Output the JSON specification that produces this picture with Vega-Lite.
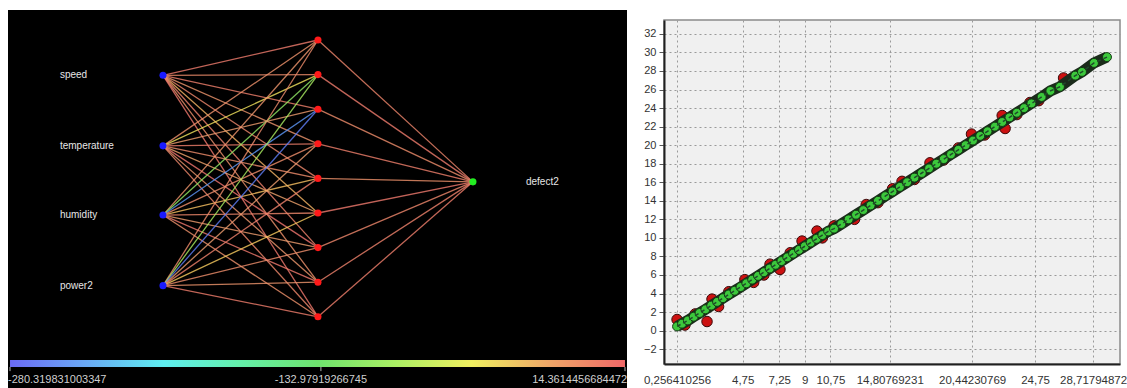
{
  "$schema": "https://vega.github.io/schema/vega-lite/v6.json",
  "background": "white",
  "padding": {"left": 8, "top": 10, "right": 0, "bottom": 0},
  "spacing": 15,
  "config": {"font": "Liberation Sans", "view": {"stroke": null}, "axis": {"labelOverlap": false}},
  "datasets": {
    "nodes": [
      {"L": 1, "j": 2.02, "k": "in"}, {"L": 1, "j": 4.06, "k": "in"}, {"L": 1, "j": 6.06, "k": "in"}, {"L": 1, "j": 8.1, "k": "in"},
      {"L": 2, "j": 1, "k": "hid"}, {"L": 2, "j": 2, "k": "hid"}, {"L": 2, "j": 3, "k": "hid"}, {"L": 2, "j": 4, "k": "hid"}, {"L": 2, "j": 5, "k": "hid"},
      {"L": 2, "j": 6, "k": "hid"}, {"L": 2, "j": 7, "k": "hid"}, {"L": 2, "j": 8, "k": "hid"}, {"L": 2, "j": 9, "k": "hid"},
      {"L": 3, "j": 5.1, "k": "out"}
    ],
    "edges": [
      {"L1": 1, "j1": 2.02, "L2": 2, "j2": 1, "w": 5}, {"L1": 1, "j1": 2.02, "L2": 2, "j2": 2, "w": -8}, {"L1": 1, "j1": 2.02, "L2": 2, "j2": 3, "w": 2},
      {"L1": 1, "j1": 2.02, "L2": 2, "j2": 4, "w": -15}, {"L1": 1, "j1": 2.02, "L2": 2, "j2": 5, "w": -5}, {"L1": 1, "j1": 2.02, "L2": 2, "j2": 6, "w": -35},
      {"L1": 1, "j1": 2.02, "L2": 2, "j2": 7, "w": 0}, {"L1": 1, "j1": 2.02, "L2": 2, "j2": 8, "w": -12}, {"L1": 1, "j1": 2.02, "L2": 2, "j2": 9, "w": 8},
      {"L1": 1, "j1": 4.06, "L2": 2, "j2": 1, "w": -12}, {"L1": 1, "j1": 4.06, "L2": 2, "j2": 2, "w": -55}, {"L1": 1, "j1": 4.06, "L2": 2, "j2": 3, "w": -20},
      {"L1": 1, "j1": 4.06, "L2": 2, "j2": 4, "w": 3}, {"L1": 1, "j1": 4.06, "L2": 2, "j2": 5, "w": -8}, {"L1": 1, "j1": 4.06, "L2": 2, "j2": 6, "w": -25},
      {"L1": 1, "j1": 4.06, "L2": 2, "j2": 7, "w": 10}, {"L1": 1, "j1": 4.06, "L2": 2, "j2": 8, "w": -18}, {"L1": 1, "j1": 4.06, "L2": 2, "j2": 9, "w": -5},
      {"L1": 1, "j1": 6.06, "L2": 2, "j2": 1, "w": -15}, {"L1": 1, "j1": 6.06, "L2": 2, "j2": 2, "w": -110}, {"L1": 1, "j1": 6.06, "L2": 2, "j2": 3, "w": -255},
      {"L1": 1, "j1": 6.06, "L2": 2, "j2": 4, "w": -10}, {"L1": 1, "j1": 6.06, "L2": 2, "j2": 5, "w": -40}, {"L1": 1, "j1": 6.06, "L2": 2, "j2": 6, "w": -5},
      {"L1": 1, "j1": 6.06, "L2": 2, "j2": 7, "w": -20}, {"L1": 1, "j1": 6.06, "L2": 2, "j2": 8, "w": 6}, {"L1": 1, "j1": 6.06, "L2": 2, "j2": 9, "w": -12},
      {"L1": 1, "j1": 8.1, "L2": 2, "j2": 1, "w": -8}, {"L1": 1, "j1": 8.1, "L2": 2, "j2": 2, "w": -95}, {"L1": 1, "j1": 8.1, "L2": 2, "j2": 3, "w": -270},
      {"L1": 1, "j1": 8.1, "L2": 2, "j2": 4, "w": -22}, {"L1": 1, "j1": 8.1, "L2": 2, "j2": 5, "w": 0}, {"L1": 1, "j1": 8.1, "L2": 2, "j2": 6, "w": -45},
      {"L1": 1, "j1": 8.1, "L2": 2, "j2": 7, "w": -10}, {"L1": 1, "j1": 8.1, "L2": 2, "j2": 8, "w": -15}, {"L1": 1, "j1": 8.1, "L2": 2, "j2": 9, "w": 4},
      {"L1": 2, "j1": 1, "L2": 3, "j2": 5.1, "w": -3}, {"L1": 2, "j1": 2, "L2": 3, "j2": 5.1, "w": 5}, {"L1": 2, "j1": 3, "L2": 3, "j2": 5.1, "w": -8},
      {"L1": 2, "j1": 4, "L2": 3, "j2": 5.1, "w": 2}, {"L1": 2, "j1": 5, "L2": 3, "j2": 5.1, "w": -12}, {"L1": 2, "j1": 6, "L2": 3, "j2": 5.1, "w": 6},
      {"L1": 2, "j1": 7, "L2": 3, "j2": 5.1, "w": -4}, {"L1": 2, "j1": 8, "L2": 3, "j2": 5.1, "w": 0}, {"L1": 2, "j1": 9, "L2": 3, "j2": 5.1, "w": 3}
    ],
    "names": [
      {"L": 0.335, "j": 2.02, "t": "speed"}, {"L": 0.335, "j": 4.06, "t": "temperature"},
      {"L": 0.335, "j": 6.06, "t": "humidity"}, {"L": 0.335, "j": 8.1, "t": "power2"},
      {"L": 3.342, "j": 5.1, "t": "defect2"}
    ],
    "bar": [{"L": 0.013, "L2": 3.981, "j": 10.25, "j2": 10.45}],
    "barticks": [{"L": 0.013, "j": 10.45, "j2": 10.57}, {"L": 2.019, "j": 10.45, "j2": 10.57}, {"L": 3.981, "j": 10.45, "j2": 10.57}],
    "barlabels": [
      {"L": 0.0, "j": 10.83, "t": "-280.319831003347", "a": "left"},
      {"L": 2.019, "j": 10.83, "t": "-132.97919266745", "a": "center"},
      {"L": 3.994, "j": 10.83, "t": "14.3614456684472", "a": "right"}
    ],
    "pred": [
      {"x": 0.26, "y": 0.45}, {"x": 0.6, "y": 0.75}, {"x": 1.0, "y": 1.1}, {"x": 1.4, "y": 1.5}, {"x": 1.8, "y": 1.9},
      {"x": 2.2, "y": 2.3}, {"x": 2.6, "y": 2.7}, {"x": 3.0, "y": 3.1}, {"x": 3.4, "y": 3.5}, {"x": 3.8, "y": 3.9},
      {"x": 4.2, "y": 4.3}, {"x": 4.6, "y": 4.7}, {"x": 5.0, "y": 5.1}, {"x": 5.4, "y": 5.5}, {"x": 5.8, "y": 5.9},
      {"x": 6.2, "y": 6.3}, {"x": 6.6, "y": 6.7}, {"x": 7.0, "y": 7.1}, {"x": 7.4, "y": 7.5}, {"x": 7.8, "y": 7.9},
      {"x": 8.2, "y": 8.3}, {"x": 8.6, "y": 8.7}, {"x": 9.0, "y": 9.1}, {"x": 9.4, "y": 9.5}, {"x": 9.8, "y": 9.9},
      {"x": 10.2, "y": 10.3}, {"x": 10.6, "y": 10.7}, {"x": 11.0, "y": 11.0}, {"x": 11.5, "y": 11.5}, {"x": 12.0, "y": 12.0},
      {"x": 12.5, "y": 12.5}, {"x": 13.0, "y": 13.0}, {"x": 13.5, "y": 13.5}, {"x": 14.0, "y": 14.0}, {"x": 14.5, "y": 14.5},
      {"x": 15.0, "y": 15.0}, {"x": 15.5, "y": 15.5}, {"x": 16.0, "y": 16.0}, {"x": 16.5, "y": 16.5}, {"x": 17.0, "y": 17.0},
      {"x": 17.5, "y": 17.5}, {"x": 18.0, "y": 18.0}, {"x": 18.5, "y": 18.5}, {"x": 19.0, "y": 19.0}, {"x": 19.5, "y": 19.5},
      {"x": 20.0, "y": 20.0}, {"x": 20.5, "y": 20.5}, {"x": 21.0, "y": 21.0}, {"x": 21.5, "y": 21.5}, {"x": 22.0, "y": 22.0},
      {"x": 22.5, "y": 22.5}, {"x": 23.0, "y": 23.0}, {"x": 23.5, "y": 23.5}, {"x": 24.0, "y": 24.0}, {"x": 24.5, "y": 24.5},
      {"x": 25.2, "y": 25.2}, {"x": 25.8, "y": 25.85}, {"x": 26.45, "y": 26.3}, {"x": 27.5, "y": 27.5}, {"x": 27.96, "y": 27.9},
      {"x": 28.78, "y": 28.87}, {"x": 29.67, "y": 29.5}
    ],
    "actual": [
      {"x": 0.26, "y": 1.2}, {"x": 0.8, "y": 0.6}, {"x": 1.5, "y": 1.8}, {"x": 2.31, "y": 0.98}, {"x": 2.65, "y": 3.4},
      {"x": 3.1, "y": 2.6}, {"x": 3.8, "y": 4.2}, {"x": 4.9, "y": 5.5}, {"x": 5.5, "y": 5.2}, {"x": 6.2, "y": 6.0},
      {"x": 6.62, "y": 7.17}, {"x": 7.3, "y": 6.6}, {"x": 8.0, "y": 8.4}, {"x": 8.81, "y": 9.66}, {"x": 9.83, "y": 10.74},
      {"x": 10.2, "y": 10.0}, {"x": 11.0, "y": 11.3}, {"x": 12.4, "y": 12.0}, {"x": 13.2, "y": 13.6}, {"x": 14.0, "y": 13.8},
      {"x": 15.0, "y": 15.3}, {"x": 15.65, "y": 16.1}, {"x": 16.5, "y": 16.3}, {"x": 17.56, "y": 18.1}, {"x": 18.5, "y": 18.4},
      {"x": 19.5, "y": 19.7}, {"x": 20.4, "y": 21.2}, {"x": 21.3, "y": 21.1}, {"x": 22.5, "y": 23.2}, {"x": 22.7, "y": 21.8},
      {"x": 23.5, "y": 23.3}, {"x": 24.4, "y": 24.6}, {"x": 25.0, "y": 24.8}, {"x": 26.7, "y": 27.25}
    ],
    "none": []
  },
  "hconcat": [
    {
      "width": 619,
      "height": 378,
      "view": {"fill": "black", "stroke": null},
      "layer": [
        {
          "data": {"name": "edges"},
          "mark": {"type": "rule", "strokeWidth": 1.3, "opacity": 0.8},
          "encoding": {
            "x": {"field": "L1", "type": "quantitative", "scale": {"domain": [0, 3.994], "nice": false, "zero": false}, "axis": null},
            "y": {"field": "j1", "type": "quantitative", "scale": {"domain": [0.133, 11.058], "nice": false, "zero": false, "reverse": true}, "axis": null},
            "x2": {"field": "L2"},
            "y2": {"field": "j2"},
            "color": {
              "field": "w", "type": "quantitative", "legend": null,
              "scale": {
                "domain": [-280.32, -243.48, -206.65, -169.81, -132.98, -96.15, -59.31, -22.48, 14.36],
                "range": ["#6b6bf5", "#6aaaf5", "#5eeef0", "#64f0aa", "#6ee46e", "#aaf064", "#f0f060", "#f0a070", "#f07070"]
              }
            }
          }
        },
        {
          "data": {"name": "nodes"},
          "mark": {"type": "circle", "size": 50, "opacity": 1},
          "encoding": {
            "x": {"field": "L", "type": "quantitative"},
            "y": {"field": "j", "type": "quantitative"},
            "fill": {"field": "k", "type": "nominal", "legend": null, "scale": {"domain": ["in", "hid", "out"], "range": ["#1a1aff", "#ff1a1a", "#22ee22"]}}
          }
        },
        {
          "data": {"name": "names"},
          "mark": {"type": "text", "align": "left", "baseline": "middle", "fontSize": 10, "color": "#e6e6e6"},
          "encoding": {
            "x": {"field": "L", "type": "quantitative"},
            "y": {"field": "j", "type": "quantitative"},
            "text": {"field": "t"}
          }
        },
        {
          "data": {"name": "bar"},
          "mark": {
            "type": "rect",
            "fill": {
              "gradient": "linear", "x1": 0, "y1": 0, "x2": 1, "y2": 0,
              "stops": [
                {"offset": 0, "color": "#6b6bf5"}, {"offset": 0.125, "color": "#6aaaf5"}, {"offset": 0.25, "color": "#5eeef0"},
                {"offset": 0.375, "color": "#64f0aa"}, {"offset": 0.5, "color": "#6ee46e"}, {"offset": 0.625, "color": "#aaf064"},
                {"offset": 0.75, "color": "#f0f060"}, {"offset": 0.875, "color": "#f0a868"}, {"offset": 1, "color": "#f06868"}
              ]
            }
          },
          "encoding": {
            "x": {"field": "L", "type": "quantitative"},
            "x2": {"field": "L2"},
            "y": {"field": "j", "type": "quantitative"},
            "y2": {"field": "j2"}
          }
        },
        {
          "data": {"name": "barticks"},
          "mark": {"type": "rule", "color": "#b0b0b0", "strokeWidth": 1},
          "encoding": {
            "x": {"field": "L", "type": "quantitative"},
            "y": {"field": "j", "type": "quantitative"},
            "y2": {"field": "j2"}
          }
        },
        {
          "data": {"name": "barlabels"},
          "transform": [{"filter": "datum.a == 'left'"}],
          "mark": {"type": "text", "align": "left", "baseline": "middle", "fontSize": 11, "color": "#cfcfcf"},
          "encoding": {"x": {"field": "L", "type": "quantitative"}, "y": {"field": "j", "type": "quantitative"}, "text": {"field": "t"}}
        },
        {
          "data": {"name": "barlabels"},
          "transform": [{"filter": "datum.a == 'center'"}],
          "mark": {"type": "text", "align": "center", "baseline": "middle", "fontSize": 11, "color": "#cfcfcf"},
          "encoding": {"x": {"field": "L", "type": "quantitative"}, "y": {"field": "j", "type": "quantitative"}, "text": {"field": "t"}}
        },
        {
          "data": {"name": "barlabels"},
          "transform": [{"filter": "datum.a == 'right'"}],
          "mark": {"type": "text", "align": "right", "baseline": "middle", "fontSize": 11, "color": "#cfcfcf"},
          "encoding": {"x": {"field": "L", "type": "quantitative"}, "y": {"field": "j", "type": "quantitative"}, "text": {"field": "t"}}
        }
      ]
    },
    {
      "spacing": 8,
      "vconcat": [
        {
          "width": 456,
          "height": 1,
          "data": {"name": "none"},
          "mark": {"type": "point"},
          "encoding": {}
        },
        {
          "width": 456,
          "height": 344,
          "view": {"fill": "#f0f0f0", "stroke": "#8a8a8a", "strokeWidth": 1.5},
          "layer": [
            {
              "data": {"name": "actual"},
              "mark": {"type": "point", "filled": true, "size": 110, "fill": "#cc1111", "stroke": "#3a0a0a", "strokeWidth": 1, "opacity": 1},
              "encoding": {
                "x": {
                  "field": "x", "type": "quantitative",
                  "scale": {"domain": [-0.633, 30.56], "nice": false, "zero": false},
                  "axis": {
                    "title": null,
                    "values": [0.256410256, 4.75, 7.25, 9, 10.75, 14.80769231, 20.44230769, 24.75, 28.71794872],
                    "labelExpr": "replace(toString(datum.value), '.', ',')",
                    "labelFontSize": 11.5, "labelColor": "#333333", "labelPadding": 10,
                    "labelOverlap": false, "labelFlush": false, "labelBound": false,
                    "ticks": false,
                    "domainColor": "#202020", "domainWidth": 2,
                    "grid": true, "gridColor": "#9a9a9a", "gridDash": [2, 3], "gridWidth": 1
                  }
                },
                "y": {
                  "field": "y", "type": "quantitative",
                  "scale": {"domain": [-3.6, 33.5], "nice": false, "zero": false},
                  "axis": {
                    "title": null,
                    "values": [-2, 0, 2, 4, 6, 8, 10, 12, 14, 16, 18, 20, 22, 24, 26, 28, 30, 32],
                    "tickCount": 18,
                    "labelFontSize": 11, "labelColor": "#333333", "labelPadding": 3,
                    "labelOverlap": false, "labelFlush": false, "labelBound": false,
                    "tickSize": 5, "tickColor": "#555555",
                    "domainColor": "#202020", "domainWidth": 2,
                    "grid": true, "gridColor": "#9a9a9a", "gridDash": [2, 3], "gridWidth": 1
                  }
                }
              }
            },
            {
              "data": {"name": "pred"},
              "mark": {"type": "line", "color": "#1b2b1b", "strokeWidth": 11},
              "encoding": {"x": {"field": "x", "type": "quantitative"}, "y": {"field": "y", "type": "quantitative"}}
            },
            {
              "data": {"name": "pred"},
              "mark": {"type": "point", "filled": true, "size": 80, "fill": "#3cc83c", "stroke": "#143814", "strokeWidth": 1, "opacity": 1},
              "encoding": {"x": {"field": "x", "type": "quantitative"}, "y": {"field": "y", "type": "quantitative"}}
            },
            {
              "data": {"name": "pred"},
              "mark": {"type": "line", "color": "#1f4a2a", "strokeWidth": 1.5, "strokeDash": [4, 3]},
              "encoding": {"x": {"field": "x", "type": "quantitative"}, "y": {"field": "y", "type": "quantitative"}}
            }
          ]
        }
      ]
    }
  ]
}
